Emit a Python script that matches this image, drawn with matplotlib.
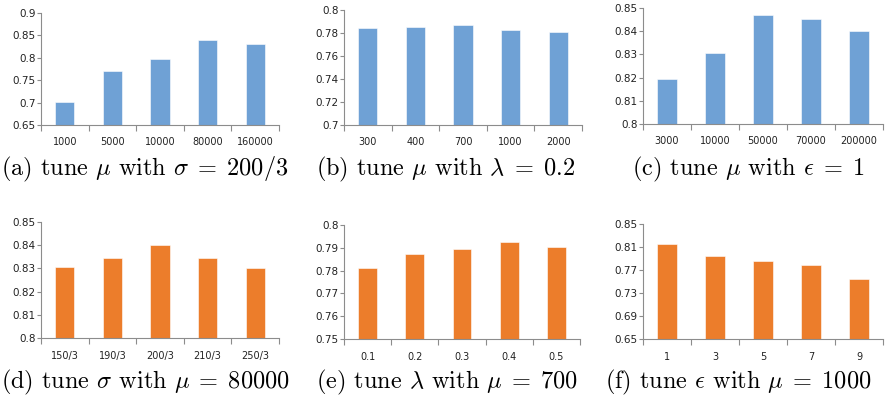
""" tuning bar charts, 2x3 panels """

import matplotlib
matplotlib.use("Agg")
import matplotlib.pyplot as plt

plt.rcParams['mathtext.fontset'] = 'cm'
plt.rcParams['font.family'] = 'DejaVu Sans'

blue = "#6FA1D5"
orange = "#EC7D2B"
grey = "#8C8C8C"

# panel data
a_cats = ["1000", "5000", "10000", "80000", "160000"]
a_vals = [0.702, 0.770, 0.798, 0.840, 0.831]
a_ticks = [0.65, 0.7, 0.75, 0.8, 0.85, 0.9]

b_cats = ["300", "400", "700", "1000", "2000"]
b_vals = [0.7846, 0.7855, 0.7872, 0.7828, 0.7808]
b_ticks = [0.7, 0.72, 0.74, 0.76, 0.78, 0.8]

c_cats = ["3000", "10000", "50000", "70000", "200000"]
c_vals = [0.8193, 0.8305, 0.8471, 0.8453, 0.8400]
c_ticks = [0.8, 0.81, 0.82, 0.83, 0.84, 0.85]

d_cats = ["150/3", "190/3", "200/3", "210/3", "250/3"]
d_vals = [0.8307, 0.8346, 0.8401, 0.8346, 0.8303]
d_ticks = [0.8, 0.81, 0.82, 0.83, 0.84, 0.85]

e_cats = ["0.1", "0.2", "0.3", "0.4", "0.5"]
e_vals = [0.7811, 0.7871, 0.7895, 0.7927, 0.7905]
e_ticks = [0.75, 0.76, 0.77, 0.78, 0.79, 0.8]

f_cats = ["1", "3", "5", "7", "9"]
f_vals = [0.8159, 0.7951, 0.7853, 0.7795, 0.7552]
f_ticks = [0.65, 0.69, 0.73, 0.77, 0.81, 0.85]

captions = [
    r"(a) tune $\mu$ with $\sigma\;=\;200/3$",
    r"(b) tune $\mu$ with $\lambda\;=\;0.2$",
    r"(c) tune $\mu$ with $\epsilon\;=\;1$",
    r"(d) tune $\sigma$ with $\mu\;=\;80000$",
    r"(e) tune $\lambda$ with $\mu\;=\;700$",
    r"(f) tune $\epsilon$ with $\mu\;=\;1000$",
]

W, H = 885, 399
fig = plt.figure(figsize=(W / 100, H / 100), dpi=100)

# axes boxes in pixels: left, right, top, bottom
boxes = [
    (41, 279, 13, 125), (344, 582, 10, 125), (643, 883, 8, 124),
    (41, 279, 222, 338), (344, 580, 225, 339), (643, 883, 224, 339),
]
panels = [
    (a_cats, a_vals, a_ticks, blue, "{:g}"),
    (b_cats, b_vals, b_ticks, blue, "{:.2f}"),
    (c_cats, c_vals, c_ticks, blue, "{:.2f}"),
    (d_cats, d_vals, d_ticks, orange, "{:.2f}"),
    (e_cats, e_vals, e_ticks, orange, "{:.2f}"),
    (f_cats, f_vals, f_ticks, orange, "{:.2f}"),
]
cap_pos = [(145, 169), (446, 169), (748, 169), (145, 382), (447, 382), (738, 382)]

for (l, r, t, b), (cats, vals, ticks, col, fmt), cap, (cx, cy) in zip(
        boxes, panels, captions, cap_pos):
    ax = fig.add_axes([l / W, 1 - b / H, (r - l) / W, (b - t) / H])
    x = list(range(len(cats)))
    ax.bar(x, vals, width=0.4, color=col, edgecolor="white", linewidth=0.4)
    ax.set_xlim(-0.5, len(cats) - 0.5)
    ax.set_ylim(ticks[0], ticks[-1])
    ax.set_yticks(ticks)
    labels = []
    for v in ticks:
        s = fmt.format(v).rstrip("0").rstrip(".") if fmt != "{:g}" else fmt.format(v)
        labels.append(s)
    ax.set_yticklabels(labels)
    ax.set_xticks(x)
    ax.set_xticklabels(cats)
    ax.set_xticks([i - 0.5 for i in range(len(cats) + 1)], minor=True)
    ax.tick_params(axis="x", which="major", length=0, pad=9, labelsize=7, colors="#222222")
    ax.tick_params(axis="x", which="minor", length=4, width=0.8, color=grey, direction="out")
    ax.tick_params(axis="y", length=3, width=0.8, color=grey, labelsize=7.5,
                   labelcolor="#222222", pad=1)
    for s in ["top", "right"]:
        ax.spines[s].set_visible(False)
    for s in ["left", "bottom"]:
        ax.spines[s].set_color(grey)
        ax.spines[s].set_linewidth(0.8)
    fig.text(cx / W, 1 - cy / H, cap, ha="center", va="center",
             family="cmr10", fontsize=17.5)

plt.savefig("out.png", dpi=100)
